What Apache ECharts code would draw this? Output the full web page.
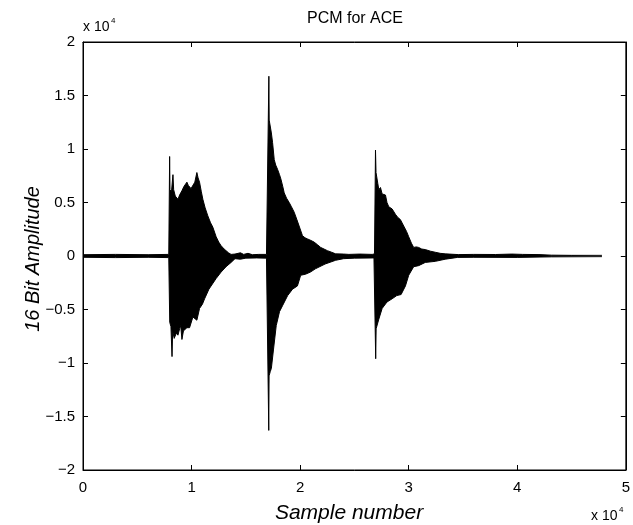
<!DOCTYPE html>
<html>
<head>
<meta charset="utf-8">
<script src="https://cdn.jsdelivr.net/npm/echarts@6/dist/echarts.min.js"></script>
<style>
html,body{margin:0;padding:0;background:#fff;}
#chart{width:633px;height:525px;}
</style>
</head>
<body>
<div id="chart"></div>
<script>
// ---- Data (sample number, amplitude) ----
var titleText = 'PCM for ACE';
var xName = 'Sample number';
var yName = '16 Bit Amplitude';
var xTicks = [0, 10000, 20000, 30000, 40000, 50000];
var yTicks = [-20000, -15000, -10000, -5000, 0, 5000, 10000, 15000, 20000];

// Upper envelope of the waveform
var upperX = [0, 3000, 6000, 7900,
  7960, 7980, 8010, 8150, 8287, 8350, 8500, 8746, 8900, 9113, 9300, 9572, 9700, 9817, 9950, 10122, 10300, 10489, 10600, 10734, 10900, 11040, 11250, 11498, 11750, 11957, 12263, 12500, 12722, 13000, 13180, 13400, 13639, 14000, 14500, 14800, 15200, 15600, 16200, 16900,
  17060, 17120, 17150, 17250, 17350, 17462, 17615, 17750, 17921, 18100, 18226, 18400, 18532, 18750, 18991, 19200, 19450, 19700, 19908, 20214, 20450, 20673, 21000, 21284, 21600, 21896, 22200, 22508, 22900, 23272, 24000, 24495, 25500, 26636, 26800,
  26850, 26942, 26990, 27095, 27150, 27248, 27400, 27554, 27700, 27859, 28000, 28165, 28471, 28777, 29000, 29235, 29541, 29800, 30000, 30250, 30459, 30700, 30917, 31200, 31529, 32000, 32446, 32900, 33364, 34587, 36000, 38000, 39500, 40500, 42000, 43150, 45000, 47800];
var upperY = [120, 150, 120, 150,
  200, 9300, 6200, 6000, 7600, 6200, 5600, 5300, 5700, 6100, 6500, 6900, 6600, 6600, 6300, 6200, 6900, 7800, 7300, 6900, 6000, 5300, 4500, 3750, 3100, 2700, 1800, 1300, 960, 650, 500, 300, 150, 180, 300, 150, 250, 120, 150, 150,
  200, 16800, 12700, 12600, 11500, 10600, 9000, 8500, 8100, 7600, 7200, 6500, 5900, 5400, 5000, 4600, 4100, 3400, 2800, 1900, 1700, 1600, 1450, 1300, 1050, 800, 650, 500, 350, 200, 180, 150, 180, 150, 150,
  200, 9900, 7800, 7800, 6800, 6200, 6400, 5800, 5700, 5700, 5000, 4600, 4400, 3900, 3600, 3400, 2800, 2300, 1800, 1200, 800, 850, 800, 650, 600, 450, 350, 250, 200, 130, 150, 140, 180, 150, 130, 80, 60, 60];

// Lower envelope of the waveform
var lowerX = [0, 3000, 6000, 7900,
  7960, 7990, 8100, 8200, 8260, 8400, 8600, 8746, 8900, 9000, 9113, 9250, 9420, 9572, 9817, 10122, 10300, 10489, 10734, 11000, 11200, 11600, 12263, 12722, 13180, 13639, 14000, 14500, 15000, 16000, 16900,
  17060, 17110, 17140, 17250, 17350, 17550, 17800, 18100, 18400, 18850, 19300, 19750, 20050, 20500, 20950, 21400, 22300, 23272, 24000, 25000, 26800,
  26850, 26960, 27000, 27100, 27248, 27554, 28000, 28471, 28900, 29300, 29700, 30000, 30459, 30917, 31529, 32446, 33364, 34500, 36000, 40000, 43150, 47800];
var lowerY = [-120, -150, -120, -150,
  -200, -6200, -6600, -9400, -7000, -7700, -7200, -7400, -6800, -6500, -7800, -7000, -7000, -6700, -6700, -5700, -5800, -6000, -4900, -4500, -4000, -3100, -2100, -1500, -1000, -600, -250, -300, -200, -180, -200,
  -200, -16300, -11200, -10800, -10500, -8700, -6500, -5200, -4600, -3700, -3100, -2800, -1800, -1700, -1500, -1200, -750, -400, -250, -200, -180,
  -200, -9600, -6800, -6800, -5900, -4900, -4300, -4000, -3700, -3600, -2800, -1800, -1000, -900, -600, -500, -300, -130, -120, -130, -80, -60];

function pairs(xs, ys) {
  var out = [];
  for (var i = 0; i < xs.length; i++) out.push([xs[i], ys[i]]);
  return out;
}
function fmt(v) {
  var s = String(Math.abs(v) / 10000);
  return v < 0 ? '\u2212' + s : s;
}

var FONT = '"Liberation Sans", Arial, Helvetica, sans-serif';
var chart = echarts.init(document.getElementById('chart'), null, {renderer: 'canvas'});

var grid = {left: 83, right: 5, top: 42, bottom: 55, show: true, borderColor: '#000', borderWidth: 1, backgroundColor: '#fff'};

var commonTick = {show: true, inside: true, length: 5, lineStyle: {color: '#000', width: 1}};

var option = {
  animation: false,
  backgroundColor: '#fff',
  grid: grid,
  xAxis: [{
    type: 'value', min: xTicks[0], max: xTicks[xTicks.length - 1], interval: 10000,
    position: 'bottom',
    axisLine: {show: true, onZero: false, lineStyle: {color: '#000', width: 1}},
    axisTick: commonTick,
    splitLine: {show: false},
    axisLabel: {show: true, margin: 10, color: '#000', fontSize: 15, fontFamily: FONT, formatter: fmt}
  }, {
    type: 'value', min: xTicks[0], max: xTicks[xTicks.length - 1], interval: 10000,
    position: 'top',
    axisLine: {show: true, onZero: false, lineStyle: {color: '#000', width: 1}},
    axisTick: commonTick,
    splitLine: {show: false},
    axisLabel: {show: false}
  }],
  yAxis: [{
    type: 'value', min: yTicks[0], max: yTicks[yTicks.length - 1], interval: 5000,
    position: 'left',
    axisLine: {show: true, onZero: false, lineStyle: {color: '#000', width: 1}},
    axisTick: commonTick,
    splitLine: {show: false},
    axisLabel: {show: true, margin: 8, color: '#000', fontSize: 15, fontFamily: FONT, formatter: fmt}
  }, {
    type: 'value', min: yTicks[0], max: yTicks[yTicks.length - 1], interval: 5000,
    position: 'right',
    axisLine: {show: true, onZero: false, lineStyle: {color: '#000', width: 1}},
    axisTick: commonTick,
    splitLine: {show: false},
    axisLabel: {show: false}
  }],
  series: [{
    type: 'line',
    xAxisIndex: 0, yAxisIndex: 0,
    data: pairs(upperX, upperY),
    showSymbol: false, symbol: 'none',
    lineStyle: {color: '#000', width: 1},
    areaStyle: {color: '#000', opacity: 1, origin: 0},
    z: 3
  }, {
    type: 'line',
    xAxisIndex: 0, yAxisIndex: 0,
    data: pairs(lowerX, lowerY),
    showSymbol: false, symbol: 'none',
    lineStyle: {color: '#000', width: 1},
    areaStyle: {color: '#000', opacity: 1, origin: 0},
    z: 3
  }],
  graphic: [
    {type: 'text', x: 355, y: 19, style: {text: titleText, fill: '#000', font: '16px ' + FONT, align: 'center', verticalAlign: 'middle'}},
    {type: 'text', x: 83, y: 20, style: {text: 'x 10', fill: '#000', font: '14px ' + FONT}},
    {type: 'text', x: 111, y: 17, style: {text: '4', fill: '#000', font: '8px ' + FONT}},
    {type: 'text', x: 591, y: 509, style: {text: 'x 10', fill: '#000', font: '14px ' + FONT}},
    {type: 'text', x: 619, y: 506, style: {text: '4', fill: '#000', font: '8px ' + FONT}},
    {type: 'text', x: 349, y: 513, style: {text: xName, fill: '#000', font: 'italic 21px ' + FONT, align: 'center', verticalAlign: 'middle'}},
    {type: 'text', x: 33, y: 259, rotation: Math.PI / 2, style: {text: yName, fill: '#000', font: 'italic 20px ' + FONT, align: 'center', verticalAlign: 'middle'}}
  ]
};
chart.setOption(option);
</script>
</body>
</html>
